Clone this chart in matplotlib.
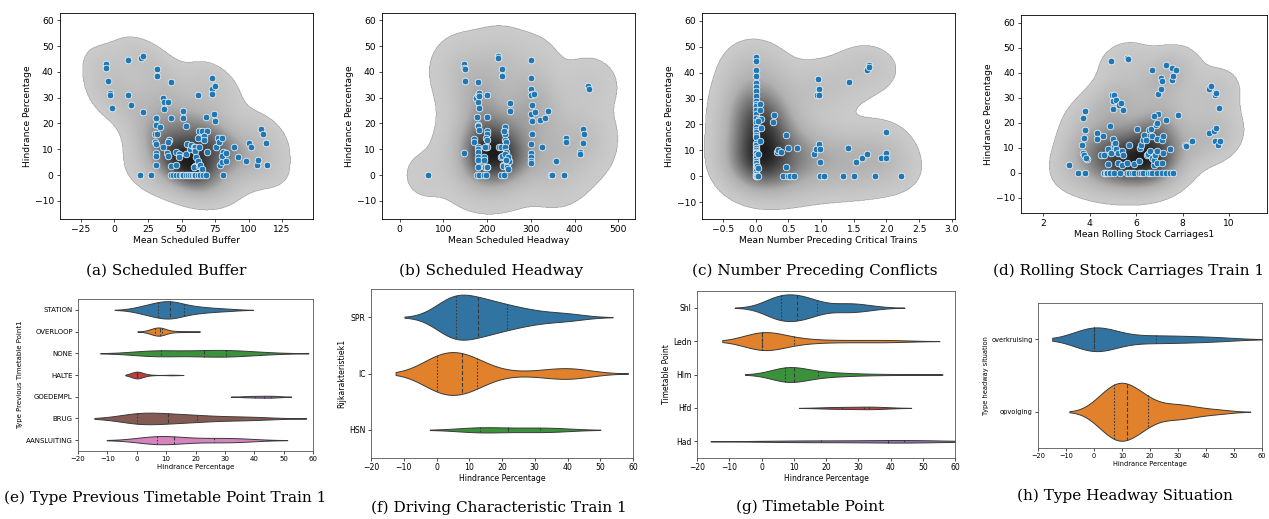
import numpy as np
import pandas as pd
import matplotlib
matplotlib.use('Agg')
import matplotlib.pyplot as plt
import seaborn as sns
from matplotlib.colors import LinearSegmentedColormap

# ---------------- scatter data (x, hindrance %) ----------------
buffer_pts = [(-6,43),(-6,41.5),(-5,36.5),(-3.5,32),(-3,31),(-2,26),
    (10,44.5),(20,45.5),(21,46),(10,31),(12,27),(21,24.5),
    (32,41),(32,38.5),(42,36),(36,30),(37,28.5),(40,28.5),(37,25.5),
    (42,22),(31,22),(31,19.5),(34,18.5),(30,16),(32,16),(30,13),(31,12),(31,8.5),(31,7.5),(31,4),
    (36,11),(39,8.5),(40,7.5),(41,13.5),(40,13),(42,3.5),(46,4),(46,9),(48,8),(48,7),
    (51,25),(51,22),(53,19),(54,12),(53,8),(56,10),(57,11.5),(59,11),(60,11),(60,9.5),(61,7),
    (60,3.5),(59,3),(63,3.5),(62,5.5),(64,4),(65,2.5),(63,11),(62,14.5),(63,17),(65,17),(62,31),
    (68,22.5),(69,17),(67,15),(67,13.5),(69,9),
    (73,37.5),(73,33.5),(75,34.5),(73,31.5),(74,23.5),(75,21),(76,11),(77,14.5),(78,13),(80,14.5),
    (79,4),(80,5),(81,9),(80,7.5),(83,8.5),(83,5.5),(81,0),
    (89,11),(92,7),(98,5.5),(100,12.5),(102,11),(106,4),(107,6),(109,18),(111,16),(113,12.5),(114,4),
    (19,0),(27,0),(42,0),(44,0),(46,0),(48,0),(50,0),(51,0),(53,0),(55,0),(56,0),(58,0),
    (59,0),(60,0),(62,0),(64,0),(66,0),(68,0)]

headway_pts = [(65,0),
    (147,43),(147,41.5),(149,41),(149,36.5),(148,8.5),
    (170,14),(170,13),(175,30),(180,31),(180,28.5),(182,32),(182,30.5),(182,26),(178,22.5),(180,19.5),
    (180,19),(182,17.5),(180,11),(180,10),(180,9),(180,7),(180,6),(181,3.5),(180,3),(177,0),(182,0),(180,36),
    (192,7),(193,6),(195,3),(200,3),(192,0),(198,0),(201,22.5),(200,31),(200,17),(200,16),(198,14.5),
    (200,13.5),(197,11),(200,11),(201,3),(195,11),
    (225,46),(225,45.5),(235,41),(235,38.5),(228,11),(232,11),(233,7),(235,7.5),(236,4),(237,3.5),
    (232,0),(238,0),(240,18),(242,18.5),(240,16),(238,17),(242,13.5),(243,13),(240,11),(243,9),(240,8),
    (245,4),(245,3),(247,2.5),(250,5.5),(248,7),(243,6),(252,28),(252,25),
    (300,44.5),(300,37.5),(300,33.5),(303,31.5),(300,31),(307,31.5),(303,27),(300,23.5),(302,21),
    (303,16),(300,12),(300,8.5),(300,7),(300,5.5),(300,4.5),(310,24.5),(322,21.5),(332,22),(340,25),(326,11),
    (345,0),(349,0),(358,5.5),(375,0),(380,14.5),(380,13),(413,9),(413,8),(420,18),(421,16),(419,12.5),
    (430,34.5),(432,33.5)]

preceding_pts = [(0,46),(0,44.5),(0,41),(0,38.5),(0,36),(0,34.5),(0,33),(0,31),(0,29),(0,28),(0,27),
    (0,25.5),(0,24),(0,22.5),(0,21),(0,19),(0,18),(0,17),(0,16),(0,15),(0,13),(0,12),(0,11),(0,10),
    (0,9.5),(0,9),(0,8),(0,7),(0,6),(0,5),(0,4),(0,3),(0,2),(0,1),(0,0),(0,0),
    (0.06,28),(0.07,25.5),(0.05,22),(0.08,22),(0.04,21.5),(0.09,18.5),(0.07,13.5),(0.03,8.5),
    (0.02,4),(0.03,3),(0.02,0),(0.04,0),
    (0.28,23.5),(0.27,21),(0.32,9.5),(0.34,10),(0.39,9.5),(0.46,16),(0.47,3.5),(0.5,11),(0.63,11),
    (0.42,0),(0.5,0),(0.53,0),(0.58,0),
    (0.96,37.5),(0.97,33.5),(0.94,31.5),(0.97,31.5),(0.9,8.5),(0.93,10.5),(0.97,12.5),(0.99,10.5),
    (0.98,5.5),(0.99,0),(1.04,0),
    (1.33,0),(1.42,11),(1.43,36.5),(1.5,0),(1.54,5.5),(1.63,7),(1.7,8.5),(1.7,41),(1.74,43),(1.74,42),
    (1.83,0),(1.92,7),(1.99,17),(1.99,9),(2.0,7),(2.22,0)]

carriages_pts = [(3.1,3),(3.5,0),(3.8,0),(3.7,8),(3.75,7),(3.65,11),(3.75,14),(3.8,17),(3.7,22),(3.8,24.5),
    (3.9,5.5),(3.85,6),
    (4.3,16),(4.3,13.5),(4.55,14.5),(4.5,7),(4.6,7),(4.85,18.5),(4.8,3.5),(4.8,9.5),(4.9,8),(4.9,44.5),
    (4.95,31),(5.05,31),(5.0,28.5),(5.0,25.5),(5.15,29),(5.25,27),(5.35,28),(5.45,25),(5.05,11),(5.0,13.5),
    (5.1,12),(5.15,9.5),(5.2,8),(5.2,4),(5.4,3),(5.4,8.5),(5.45,7),(5.6,4),(5.6,46),(5.65,45.5),(5.7,11),
    (5.9,3.5),(6.05,17.5),(6.1,4.5),(6.15,10),(6.2,11),(6.3,13),(6.35,15),(6.4,13),(6.45,7),(6.5,7.5),
    (6.55,17),(6.6,8.5),(6.65,17.5),(6.7,14.5),(6.7,6),(6.75,3),(6.75,5),(6.8,7),(6.9,4),(6.9,8.5),
    (6.9,13.5),(6.85,19),(6.9,20),(6.95,23.5),(6.75,22.5),(6.7,41),(6.95,31.5),(7.05,33.5),(7.05,38),
    (7.1,36.5),(7.1,13),(7.15,14.5),(7.1,4),(7.15,8),(7.3,43),(7.3,21),(7.45,9.5),(7.55,37),(7.6,38.5),
    (7.55,42),(7.7,41),(7.8,23),(8.1,11),(8.15,10.5),(8.4,12.5),
    (9.15,33.5),(9.2,34.5),(9.4,31),(9.45,32),(9.55,26),(9.15,16),(9.35,16.5),(9.45,18),(9.4,12.5),
    (9.5,11),(9.6,12.5),
    (4.6,0),(4.7,0),(4.75,0),(4.85,0),(5.05,0),(5.3,0),(5.6,0),(5.7,0),(5.8,0),(5.9,0),(6.1,0),(6.2,0),
    (6.3,0),(6.5,0),(6.6,0),(6.7,0),(6.9,0),(7.1,0),(7.3,0),(7.45,0),(7.6,0)]

# ---------------- violin data (hindrance % per category) ----------------
prev_cats = ['STATION', 'OVERLOOP', 'NONE', 'HALTE', 'GOEDEMPL', 'BRUG', 'AANSLUITING']
prev_station = [0, 1, 2, 3, 4, 5, 6, 6.5, 7, 7.2, 8, 8.5, 9, 9.5, 10, 10.5, 11, 11.3, 11.3, 12, 12.5, 13,
                13.5, 14, 14.5, 15, 15.9, 17, 18.5, 20, 21, 22, 24, 26, 29, 32]
prev_overloop = [4, 5, 5.5, 6, 6.3, 6.8, 7.2, 7.6, 7.9, 8, 8.2, 8.4, 8.6, 9.5, 11, 14, 17.7]
prev_none = [3, 4.5, 6.5, 8, 9, 16, 22, 24, 26, 29, 31, 33, 37, 43]
prev_halte = [0, 0, 0, 0, 0, 0, 0, 0, 0, 0, 0, 1, 4, 12]
prev_goedempl = [38, 41.1, 45.3, 46.6]
prev_brug = [0, 0, 0, 0, 0, 0, 0, 2, 4, 6, 8, 10, 11.4, 13, 15, 17, 18.5, 19.7, 23, 27, 31, 35, 39, 43.3]
prev_aansluiting = [3, 4, 5, 6, 6.9, 8, 10, 11.5, 12.6, 14, 18, 23, 26.3, 29, 32, 35, 38]

drive_cats = ['SPR', 'IC', 'HSN']
drive_spr = [0, 0, 1, 2, 2.5, 3, 3.5, 4, 4, 4.5, 5, 5, 5, 5.5, 5.5, 6, 6.5, 7, 7.5, 8, 8, 8.5, 9, 9.5, 10,
             10.5, 11, 11.5, 12, 12.6, 12.6, 13, 14, 14.5, 15, 15.5, 16, 16.5, 17, 18, 18.5, 19, 20, 20.5,
             21.2, 22, 23, 24, 25, 26, 27, 28, 29, 31, 33, 35, 37, 39, 41, 44]
drive_ic = [0, 0, 0, 0, 0, 0, 0, 0, 0, 0, 0, 0, 0, 0, 0,
            1, 2, 3, 3.5, 4, 4.5, 5, 5.5, 6, 6.5, 7, 7, 7.5, 7.8,
            8, 8.5, 9, 9, 9.5, 10, 10, 10.5, 11, 11, 11.5, 12, 12, 12.4,
            15, 18, 22, 27, 32, 35, 37, 38, 39, 40, 41, 42, 44, 46]
drive_hsn = [12, 12.5, 14.3, 21.8, 29, 34.4, 36]

tp_cats = ['Shl', 'Ledn', 'Hlm', 'Hfd', 'Had']
tp_shl = [0, 1, 2, 3, 3, 4, 4, 5, 5, 5, 5.5, 5.5, 5.8, 6, 6.5, 7, 7.5, 8, 8.5, 9, 9.5, 10, 10, 10.5, 10.5,
          11, 11.2, 11.5, 12, 12.5, 13, 13.5, 14, 14.5, 15, 15.5, 16, 16.5, 17, 18, 20, 22, 24, 25, 26, 27,
          28, 29, 30, 31, 33, 36]
tp_ledn = [0, 0, 0, 0, 0, 0, 0, 0, 0, 0, 0, 0, 0, 0, 0, 0, 0, 0,
           1, 2, 3, 4, 5, 6, 8, 9.5, 10.5, 13, 16, 20, 25, 30, 35, 39, 43]
tp_hlm = [5, 5.5, 5.5, 6, 6.5, 7, 7, 7.4, 8, 8.5, 9, 9, 9.5, 9.7, 10, 10.5, 11, 12, 13, 14, 15.5, 17.4,
          19, 21, 23, 26, 30, 36, 46]
tp_hfd = [21, 25, 31.8, 33.3, 37]
tp_had = [9, 18.4, 39.3, 44.2, 48]

hw_cats = ['overkruising', 'opvolging']
hw_overkruising = [0, 0, 0, 0, 0, 0, 0, 0, 0, 0, 0, 0, 0, 0, 0, 0, 0, 0, 0,
                   2, 4, 7, 10, 13, 16, 19, 22, 23, 25, 28, 31, 34, 37, 40, 44, 48]
hw_opvolging = [0, 0, 0, 1, 1.5, 2, 2.5, 3, 3.5, 4, 4, 4.5, 5, 5, 5.5, 6, 6, 6.5, 6.5, 7, 7, 7.2,
                7.3, 7.5, 7.8, 8, 8.2, 8.5, 8.7, 9, 9.2, 9.5, 9.7, 10, 10, 10.3, 10.5, 10.7, 11, 11, 11.2,
                11.5, 11.7, 11.9,
                12, 12.3, 12.6, 13, 13.3, 13.6, 14, 14.3, 14.6, 15, 15.3, 15.6, 16, 16.3, 16.6, 17, 17.3,
                17.6, 18, 18.3, 18.6, 19,
                19.5, 20.5, 21.5, 22.5, 23.5, 24.5, 25.5, 26.5, 27.5, 28.5, 29.5, 30, 31, 32, 33, 34, 35,
                37, 39, 41, 44, 47]

tab10 = ['#1f77b4', '#ff7f0e', '#2ca02c', '#d62728', '#9467bd', '#8c564b', '#e377c2']

# ---------------- figure ----------------
W, H = 1269, 519
fig = plt.figure(figsize=(W / 100, H / 100), dpi=100)

def px_axes(x0, y0, x1, y1):
    return fig.add_axes([x0 / W, 1 - y1 / H, (x1 - x0) / W, (y1 - y0) / H])

kde_cmap = LinearSegmentedColormap.from_list(
    'kdegray', [(0.0, '#cbcbcb'), (0.3, '#b0b0b0'), (0.65, '#686868'), (1.0, '#1c1c1c')])

def kde_fill(ax, x, y, xlim, ylim, thresh=0.04, bw_adjust=1.1, gamma=1.0):
    x = np.asarray(x, float)
    y = np.asarray(y, float)
    data = np.vstack([x, y])
    n = data.shape[1]
    factor = n ** (-1.0 / 6) * bw_adjust
    cov = np.cov(data) * factor ** 2
    inv = np.linalg.inv(cov)
    gx = np.linspace(xlim[0], xlim[1], 400)
    gy = np.linspace(ylim[0], ylim[1], 400)
    X, Y = np.meshgrid(gx, gy)
    Z = np.zeros_like(X)
    for xi, yi in zip(x, y):
        dx = X - xi
        dy = Y - yi
        Z += np.exp(-0.5 * (inv[0, 0] * dx * dx + 2 * inv[0, 1] * dx * dy + inv[1, 1] * dy * dy))
    zs = np.sort(Z.ravel())
    cum = np.cumsum(zs)
    cum /= cum[-1]
    lev = zs[np.searchsorted(cum, thresh)]
    V = np.clip((Z - lev) / (Z.max() - lev), 0, 1) ** gamma
    V = np.ma.masked_where(Z < lev, V)
    ax.imshow(V, extent=(xlim[0], xlim[1], ylim[0], ylim[1]), origin='lower', aspect='auto',
              cmap=kde_cmap, vmin=0, vmax=1, interpolation='bilinear', zorder=0)

def scatter_panel(rect, pts, xlim, ylim, xticks, xlabel, caption, cap_xy, thresh):
    ax = px_axes(*rect)
    xs = [p[0] for p in pts]
    ys = [p[1] for p in pts]
    kde_fill(ax, xs, ys, xlim, ylim, thresh=thresh)
    ax.scatter(xs, ys, s=23, c='#1f77b4', edgecolors='white', linewidths=0.5, zorder=3)
    ax.set_xlim(xlim)
    ax.set_ylim(ylim)
    ax.set_xticks(xticks)
    ax.set_yticks(range(-10, 61, 10))
    ax.tick_params(labelsize=6.6, length=2.5, width=0.5, pad=2)
    ax.set_xlabel(xlabel, fontsize=6.6, labelpad=1.5)
    ax.set_ylabel('Hindrance Percentage', fontsize=6.6, labelpad=2)
    for s in ax.spines.values():
        s.set_linewidth(0.6)
    fig.text(cap_xy[0] / W, 1 - cap_xy[1] / H, caption, ha='center', va='center',
             fontsize=11, family='DejaVu Serif')
    return ax

scatter_panel((60, 13, 313, 219), buffer_pts, (-40.6, 148), (-17, 62.8),
              [-25, 0, 25, 50, 75, 100, 125], 'Mean Scheduled Buffer',
              '(a) Scheduled Buffer', (166, 271), 0.04)
scatter_panel((382, 13, 635, 219), headway_pts, (-40, 538), (-17, 62.8),
              [0, 100, 200, 300, 400, 500], 'Mean Scheduled Headway',
              '(b) Scheduled Headway', (491, 271), 0.012)
scatter_panel((702, 13, 955, 219), preceding_pts, (-0.82, 3.05), (-16.5, 63),
              [-0.5, 0.0, 0.5, 1.0, 1.5, 2.0, 2.5, 3.0], 'Mean Number Preceding Critical Trains',
              '(c) Number Preceding Conflicts', (815, 271), 0.05)
scatter_panel((1021, 15, 1267, 213), carriages_pts, (1.04, 11.63), (-16.1, 63),
              [2, 4, 6, 8, 10], 'Mean Rolling Stock Carriages1',
              '(d) Rolling Stock Carriages Train 1', (1129, 271), 0.04)

def violin_panel(rect, cats, groups, ylabel, fs, caption, cap_xy):
    ax = px_axes(*rect)
    vals, labs = [], []
    for c, g in zip(cats, groups):
        vals += list(g)
        labs += [c] * len(g)
    df = pd.DataFrame({'Hindrance Percentage': vals, ylabel: labs})
    pal = tab10[:len(cats)]
    n_before = len(ax.lines)
    try:
        sns.violinplot(data=df, x='Hindrance Percentage', y=ylabel, hue=ylabel, order=cats,
                       hue_order=cats, palette=pal, orient='h', inner='quart',
                       density_norm='count', common_norm=True, cut=2, saturation=0.75,
                       linewidth=0.7, linecolor='#3a3a3a', legend=False,
                       inner_kws={'linewidth': 0.8}, ax=ax)
    except TypeError:
        sns.violinplot(data=df, x='Hindrance Percentage', y=ylabel, order=cats, palette=pal,
                       orient='h', inner='quart', scale='count', cut=2, saturation=0.75,
                       linewidth=0.7, ax=ax)
    # quartile lines: dotted quartiles, dashed median
    qlines = ax.lines[n_before:]
    for i, ln in enumerate(qlines):
        if i % 3 == 1:
            ln.set_dashes([3.5, 1.8])
        else:
            ln.set_dashes([1.5, 1.5])
    ax.set_xlim(-20, 60)
    ax.set_xticks(range(-20, 61, 10))
    ax.tick_params(labelsize=fs, length=2.2, width=0.5, pad=1.5)
    ax.set_xlabel('Hindrance Percentage', fontsize=fs, labelpad=1)
    ax.set_ylabel(ylabel, fontsize=fs, labelpad=2)
    for s in ax.spines.values():
        s.set_linewidth(0.6)
        s.set_edgecolor('#555555')
    fig.text(cap_xy[0] / W, 1 - cap_xy[1] / H, caption, ha='center', va='center',
             fontsize=11, family='DejaVu Serif')
    return ax

violin_panel((78, 299, 313, 451), prev_cats,
             [prev_station, prev_overloop, prev_none, prev_halte, prev_goedempl, prev_brug,
              prev_aansluiting],
             'Type Previous Timetable Point1', 5.0,
             '(e) Type Previous Timetable Point Train 1', (165, 498))
violin_panel((371, 289, 633, 458), drive_cats, [drive_spr, drive_ic, drive_hsn],
             'Rijkarakteristiek1', 5.6, '(f) Driving Characteristic Train 1', (499, 508))
violin_panel((697, 291, 955, 458), tp_cats, [tp_shl, tp_ledn, tp_hlm, tp_hfd, tp_had],
             'Timetable Point', 5.5, '(g) Timetable Point', (810, 507))
violin_panel((1038, 303, 1262, 448), hw_cats, [hw_overkruising, hw_opvolging],
             'Type headway situation', 4.8, '(h) Type Headway Situation', (1125, 496))

fig.savefig('out.png', dpi=100)
